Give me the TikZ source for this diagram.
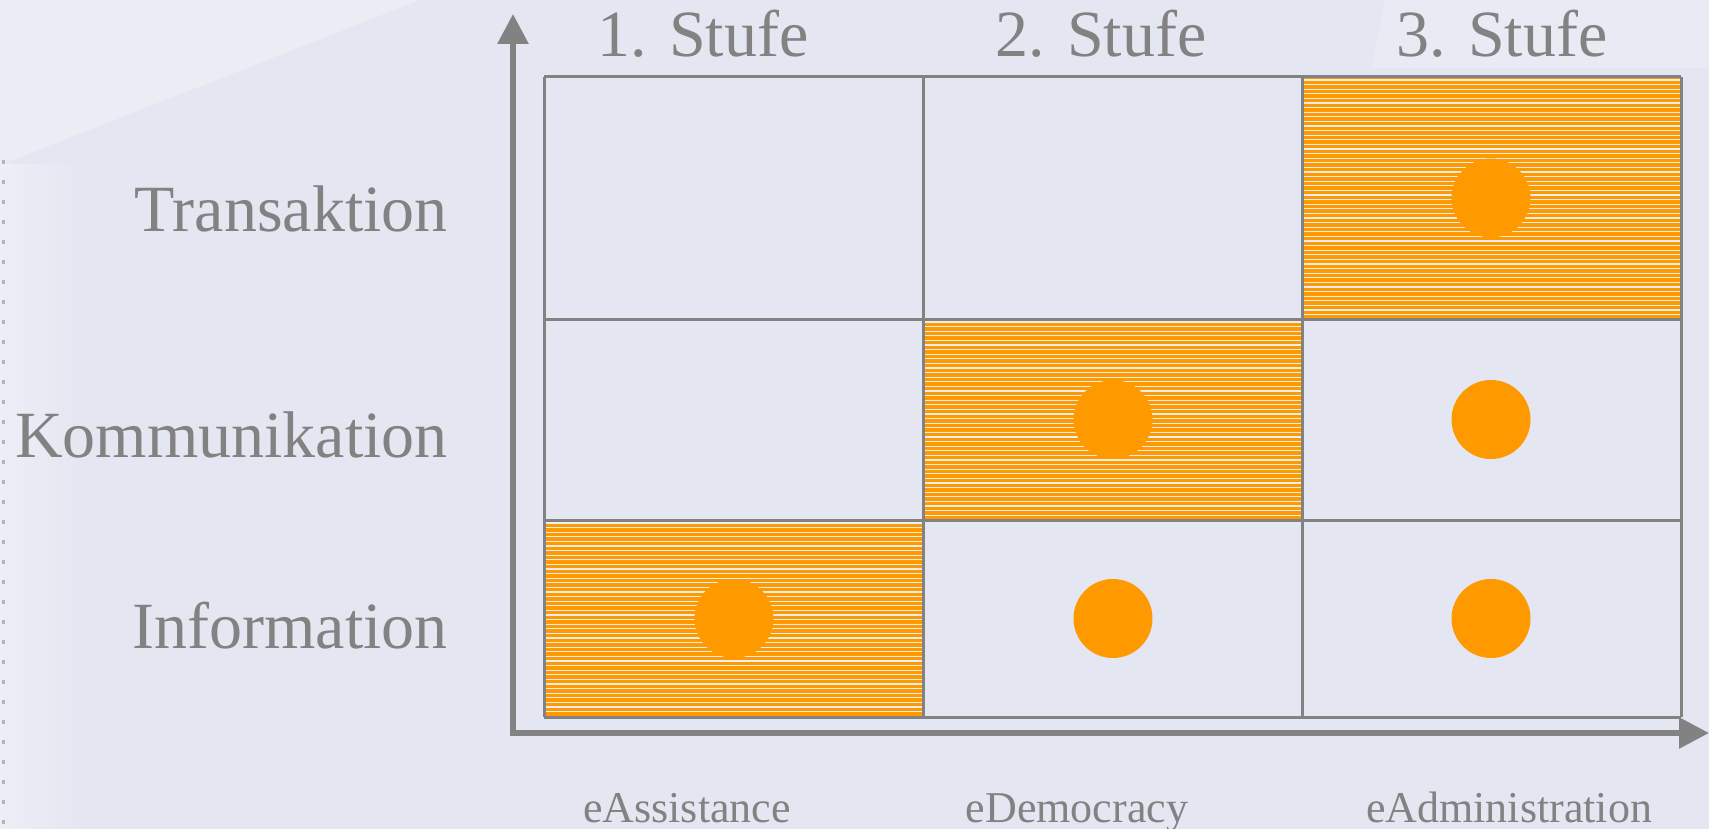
\documentclass[tikz,border=0pt]{standalone}
\usepackage{fontspec}
\setmainfont{Liberation Serif}
\usetikzlibrary{arrows.meta}
\definecolor{bg}{HTML}{E4E6F1}
\definecolor{bglight}{HTML}{EDEFF7}
\definecolor{ax}{HTML}{828282}
\definecolor{org}{HTML}{FF9900}
\definecolor{hatchline}{HTML}{EEEEF2}
\begin{document}
\begin{tikzpicture}[x=1pt,y=-1pt,
  gridline/.style={draw=ax, line width=3pt},
  axisline/.style={draw=ax, line width=6pt, line join=miter},
  dot/.style={circle, fill=org, draw=none, minimum size=79pt, inner sep=0pt},
  biglab/.style={text=ax, font=\fontsize{66}{70}\selectfont, inner sep=0pt},
  smalllab/.style={text=ax, font=\fontsize{44}{48}\selectfont, inner sep=0pt, anchor=base}
]
% canvas
\useasboundingbox (0,0) rectangle (1709,829);
\fill[bg] (0,0) rectangle (1709,829);
% faint photo background
\fill[bglight, opacity=0.8] (0,0) -- (420,0) -- (0,165) -- cycle;
\shade[left color=bglight, right color=bg] (0,165) rectangle (80,829);
\draw[ax!60, line width=3pt, dash pattern=on 4pt off 16pt] (3,160) -- (3,829);
\fill[bglight, opacity=0.6] (1385,0) -- (1709,0) -- (1709,68) -- (1372,68) -- cycle;

% hatched cells
\foreach \xa/\ya/\xb/\yb in {544/520/923/717, 923/319/1302/520, 1302/77/1681/319}{
  \fill[org] (\xa,\ya) rectangle (\xb,\yb);
  \begin{scope}
    \clip (\xa,\ya) rectangle (\xb,\yb);
    \foreach \k in {0,...,55}{
      \draw[hatchline, line width=1.1pt] (\xa,\ya+3+4.6*\k) -- (\xb,\ya+3+4.6*\k);
    }
  \end{scope}
}

% grid
\foreach \x in {544,923,1302,1681}{ \draw[gridline] (\x,77) -- (\x,717); }
\foreach \y in {77,319,520,717}{ \draw[gridline] (544,\y) -- (1681,\y); }

% dots
\node[dot] (d31) at (1491,198) {};
\node[dot] (d22) at (1113,419.5) {};
\node[dot] (d32) at (1491,419.5) {};
\node[dot] (d13) at (734,618.5) {};
\node[dot] (d23) at (1113,618.5) {};
\node[dot] (d33) at (1491,618.5) {};

% axes
\coordinate (origin) at (513,733);
\coordinate (ytip) at (513,14);
\coordinate (xtip) at (1709,733);
\draw[axisline, {Triangle[width=30pt,length=30pt]}-{Triangle[width=30pt,length=30pt]}] (ytip) -- (origin) -- (xtip);

% headers
\node[biglab, anchor=base] (h1) at (703,57) {1. Stufe};
\node[biglab, anchor=base] (h2) at (1101,57) {2. Stufe};
\node[biglab, anchor=base] (h3) at (1502,57) {3. Stufe};

% row labels
\node[biglab, anchor=base east] (r1) at (448,232) {Transaktion};
\node[biglab, anchor=base east] (r2) at (448,457) {Kommunikation};
\node[biglab, anchor=base east] (r3) at (448,648) {Information};

% bottom labels
\node[smalllab] (b1) at (687,822) {eAssistance};
\node[smalllab] (b2) at (1077,822) {eDemocracy};
\node[smalllab] (b3) at (1509,822) {eAdministration};
\end{tikzpicture}
\end{document}
